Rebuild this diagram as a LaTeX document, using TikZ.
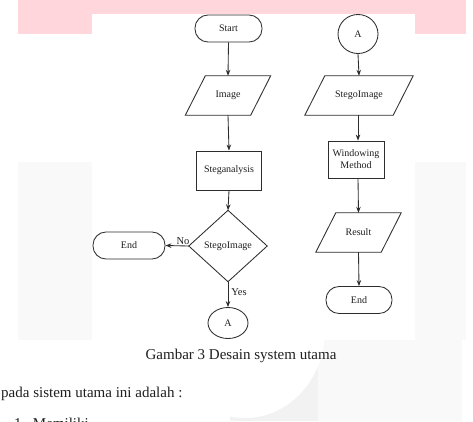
\documentclass[tikz,border=0pt]{standalone}
\usepackage{fontspec}
\setmainfont{Liberation Serif}
\usetikzlibrary{shapes.geometric,arrows.meta}
\definecolor{pinkband}{RGB}{255,214,219}
\definecolor{inkc}{RGB}{45,45,45}
\begin{document}
\begin{tikzpicture}[x=1pt,y=-1pt,
  lbl/.style={font=\fontsize{10}{12}\selectfont, text=black!88, inner sep=0pt},
  shp/.style={lbl, draw=inkc, line width=0.85pt},
  body/.style={lbl, draw=none, minimum height=39pt},
  term/.style={shp, rectangle, rounded corners=13pt, minimum height=27pt},
  procbox/.style={shp, rectangle, align=center},
  conn/.style={shp, ellipse},
  arr/.style={draw=inkc, line width=0.85pt, -{Stealth[length=6pt,width=4.5pt]}},
  edge lbl/.style={font=\fontsize{10.5}{12}\selectfont, text=black!88, inner sep=1pt},
  para/.style={draw=inkc, line width=0.85pt, line join=miter}]
\useasboundingbox (0,0) rectangle (473,421);
\clip (0,0) rectangle (473,421);
% page background and watermark
\fill[white] (0,0) rectangle (473,421);
\fill[black!2.5] (18,162) rectangle (92,340);
\fill[black!2.5] (415,162) rectangle (466,340);
\fill[black!5] (230,340) rectangle (318,421);
\fill[black!2.5] (318,340) rectangle (462,421);
\fill[white] (245,330) ellipse [x radius=80pt, y radius=88pt];
\fill[pinkband] (18,0) rectangle (466,34);
\fill[white] (92,14) rectangle (415,340);
% left column
\node[term, minimum width=67pt] (start) at (228.5,28.5) {Start};
\node[body, minimum width=65pt] (img) at (228,95.5) {Image};
\draw[para] ([xshift=-10pt]img.south west) -- ([xshift=10pt]img.north west)
  -- ([xshift=10pt]img.north east) -- ([xshift=-10pt]img.south east) -- cycle;
\node[procbox, minimum width=65pt, minimum height=39pt] (steg) at (229,170.5) {Steganalysis};
\node[lbl, minimum width=78pt, minimum height=71pt] (dec) at (228,246) {StegoImage};
\draw[para] (dec.north) -- (dec.east) -- (dec.south) -- (dec.west) -- cycle;
\node[term, minimum width=72pt] (endl) at (129,245.5) {End};
\node[conn, minimum width=40pt, minimum height=31pt] (ca) at (228,323) {A};
% right column
\node[conn, minimum width=40pt, minimum height=39pt] (cb) at (358,34) {A};
\node[body, minimum width=88pt] (simg) at (359,95.5) {StegoImage};
\draw[para] ([xshift=-10pt]simg.south west) -- ([xshift=10pt]simg.north west)
  -- ([xshift=10pt]simg.north east) -- ([xshift=-10pt]simg.south east) -- cycle;
\node[procbox, minimum width=56pt, minimum height=37pt] (win) at (356,159.5) {Windowing\\Method};
\node[body, minimum width=65pt] (res) at (358.5,232.5) {Result};
\draw[para] ([xshift=-10pt]res.south west) -- ([xshift=10pt]res.north west)
  -- ([xshift=10pt]res.north east) -- ([xshift=-10pt]res.south east) -- cycle;
\node[term, minimum width=66pt] (endr) at (359,300) {End};
% connectors
\draw[arr] (start.south) -- (img.north);
\draw[arr] (img.south) -- (steg.south |- steg.north);
\draw[arr] (steg.south) -- (dec.north);
\draw[arr] (dec.west) -- node[edge lbl, above, pos=0.25] {No} (endl.east);
\draw[arr] (dec.south) -- node[edge lbl, right, pos=0.4, xshift=2pt] {Yes} (ca.north);
\draw[arr] (cb.south) -- (simg.north);
\draw[arr] (simg.south -| 358,0) -- (win.north -| 358,0);
\draw[arr] (win.south -| 358,0) -- (res.north);
\draw[arr] (res.south) -- (endr.north);
% caption and body text
\node[font=\fontsize{15}{18}\selectfont, text=black!88, inner sep=0pt] (cap) at (241,356) {Gambar 3 Desain system utama};
\node[font=\fontsize{15}{18}\selectfont, text=black!88, inner sep=0pt, anchor=base west] (para1) at (1,397) {pada sistem utama ini adalah :};
\node[font=\fontsize{15}{18}\selectfont, text=black!88, inner sep=0pt, anchor=base west] (para2) at (14,428) {1.\ \ Memiliki};
\end{tikzpicture}
\end{document}
